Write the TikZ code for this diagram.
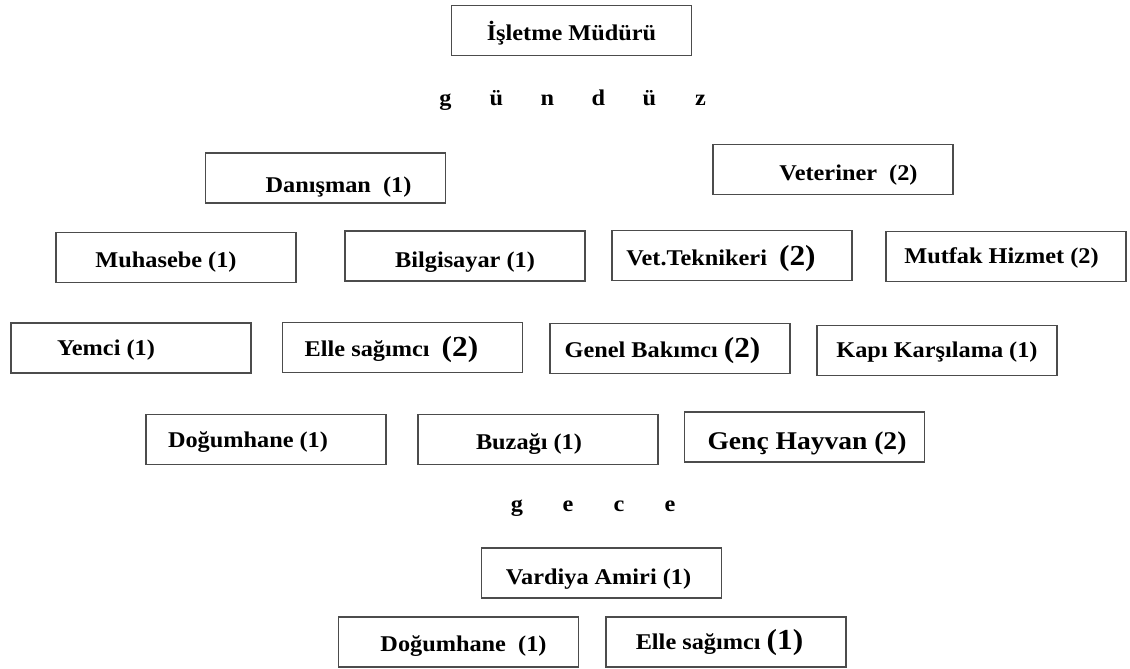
\documentclass[tikz,border=0pt]{standalone}
\usepackage{fontspec}
\setmainfont{Liberation Serif}[FakeStretch=1.08]
\newcommand\pushr[2]{\hspace*{#1}#2}
\newcommand\pushl[2]{#2\hspace*{#1}}
\newcommand\low[2]{\raisebox{-#1pt}{#2}}
\newcommand\bignum[1]{{\fontsize{29}{30}\selectfont #1}}
\begin{document}
\begin{tikzpicture}[x=1pt,y=-1pt,
  orgbox/.style={draw=black!70, line width=1.2pt, rectangle, minimum width=240pt,
    minimum height=50pt, inner sep=0pt, text height=10pt, text depth=10pt,
    font=\fontsize{22.5}{24}\selectfont\bfseries},
  spaced/.style={inner sep=0pt, font=\fontsize{22.5}{24}\selectfont\bfseries}]
\useasboundingbox (0,0) rectangle (1130,669);
\newcommand\ltr[1]{\makebox[51pt]{#1}}
% top
\node[orgbox] (mudur) at (571.5,30.5) {\low{10}{İşletme Müdürü}};
\node[spaced] (gunduz) at (573,100) {\ltr{g}\ltr{ü}\ltr{n}\ltr{d}\ltr{ü}\ltr{z}};
% row 1
\node[orgbox] (danisman) at (325.5,178) {\low{14}{\pushr{26pt}{Danışman\ \ (1)}}};
\node[orgbox] (veteriner) at (833,169.5) {\low{10.5}{\pushr{31pt}{Veteriner\ \ (2)}}};
% row 2
\node[orgbox] (muhasebe) at (176,257.5) {\low{10}{\pushl{20pt}{Muhasebe (1)}}};
\node[orgbox] (bilgisayar) at (465,256) {\low{11}{Bilgisayar (1)}};
\node[orgbox] (vettek) at (732,255.5) {\low{9.5}{\pushl{22pt}{Vet.Teknikeri\ \ \bignum{(2)}}}};
\node[orgbox] (mutfak) at (1006,256.5) {\low{6.5}{\pushl{9pt}{Mutfak Hizmet (2)}}};
% row 3
\node[orgbox] (yemci) at (131,348) {\low{7}{\pushl{50pt}{Yemci (1)}}};
\node[orgbox] (elle) at (402.5,347.5) {\low{8.5}{\pushl{22pt}{Elle sağımcı\ \ \bignum{(2)}}}};
\node[orgbox] (genel) at (670,348.5) {\low{9}{\pushl{15pt}{Genel Bakımcı\ \bignum{(2)}}}};
\node[orgbox] (kapi) at (937,350.5) {\low{6.5}{Kapı Karşılama (1)}};
% row 4
\node[orgbox] (dogum) at (266,439.5) {\low{7.5}{\pushl{36pt}{Doğumhane (1)}}};
\node[orgbox] (buzagi) at (538,439.5) {\low{10}{\pushl{18pt}{Buzağı (1)}}};
\node[orgbox, font=\fontsize{25.5}{27}\selectfont\bfseries] (genc) at (804.5,437) {\low{12.5}{\pushr{5pt}{Genç Hayvan (2)}}};
% night
\node[spaced] (gece) at (593.5,508) {\ltr{g}\ltr{e}\ltr{c}\ltr{e}};
\node[orgbox] (vardiya) at (601.5,573) {\low{11.5}{\pushl{6pt}{Vardiya Amiri (1)}}};
\node[orgbox] (dogum2) at (458.5,642) {\low{9.5}{\pushr{10pt}{Doğumhane\ \ (1)}}};
\node[orgbox] (elle2) at (726,642) {\low{7}{\pushl{13pt}{Elle sağımcı\ \bignum{(1)}}}};
\end{tikzpicture}
\end{document}
